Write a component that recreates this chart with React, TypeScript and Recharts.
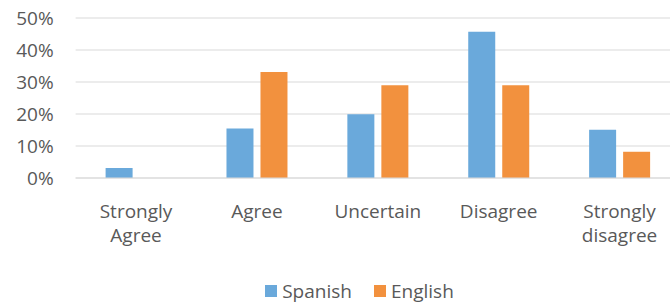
import React from 'react';
import { BarChart, Bar, XAxis, YAxis, CartesianGrid, Legend } from 'recharts';

const categories = ['Strongly Agree', 'Agree', 'Uncertain', 'Disagree', 'Strongly disagree'];
const spanish = [0.031, 0.155, 0.199, 0.457, 0.151];
const english = [0, 0.331, 0.29, 0.29, 0.082];
const yTicks = [0, 0.1, 0.2, 0.3, 0.4, 0.5];

const data = categories.map((c, i) => ({ name: c, Spanish: spanish[i], English: english[i] }));

const FONT = '"Open Sans", sans-serif';
const TEXT = '#595959';
const BLUE = '#6aa9db';
const ORANGE = '#f2913e';
const FS = 19;

const CatTick = (props: any) => {
  const { x, y, payload } = props;
  const words: string[] = String(payload.value).split(' ');
  return (
    <text x={x} y={y} textAnchor="middle" fill={TEXT} fontSize={FS} fontFamily={FONT}>
      {words.map((w, i) => (
        <tspan key={i} x={x} dy={i === 0 ? 32 : 24}>{w}</tspan>
      ))}
    </text>
  );
};

const LegendContent = () => (
  <div style={{ display: 'flex', justifyContent: 'center', alignItems: 'center', fontFamily: FONT, fontSize: FS, color: TEXT, height: 23 }}>
    {[{ n: 'Spanish', c: BLUE }, { n: 'English', c: ORANGE }].map((e, i) => (
      <div key={e.n} style={{ display: 'flex', alignItems: 'center', marginLeft: i === 0 ? 0 : 22 }}>
        <span style={{ display: 'inline-block', width: 12, height: 12, background: e.c, marginRight: 5 }} />
        <span>{e.n}</span>
      </div>
    ))}
  </div>
);

export default function App() {
  return (
    <div style={{ position: 'absolute', left: 0, top: 0, width: 670, height: 302, overflow: 'hidden', background: '#fff' }}>
      <BarChart
        width={680}
        height={302}
        data={data}
        margin={{ top: 18, right: 0, bottom: 0, left: 0 }}
        barSize={27}
        barGap={7}
      >
        <CartesianGrid vertical={false} stroke="#d9d9d9" strokeWidth={1.2} />
        <YAxis
          width={75.6}
          domain={[0, 0.5]}
          ticks={yTicks}
          tickFormatter={(v: number) => `${Math.round(v * 100)}%`}
          axisLine={false}
          tickLine={false}
          tickSize={0}
          tickMargin={22}
          tick={{ fill: TEXT, fontSize: FS, fontFamily: FONT }}
        />
        <XAxis
          dataKey="name"
          height={101}
          axisLine={{ stroke: '#d9d9d9', strokeWidth: 1.2 }}
          tickLine={false}
          tick={<CatTick />}
          interval={0}
        />
        <Legend
          content={<LegendContent />}
          wrapperStyle={{ position: 'absolute', top: 279, left: 0, width: 719 }}
        />
        <Bar dataKey="Spanish" fill={BLUE} isAnimationActive={false} />
        <Bar dataKey="English" fill={ORANGE} isAnimationActive={false} />
      </BarChart>
    </div>
  );
}
